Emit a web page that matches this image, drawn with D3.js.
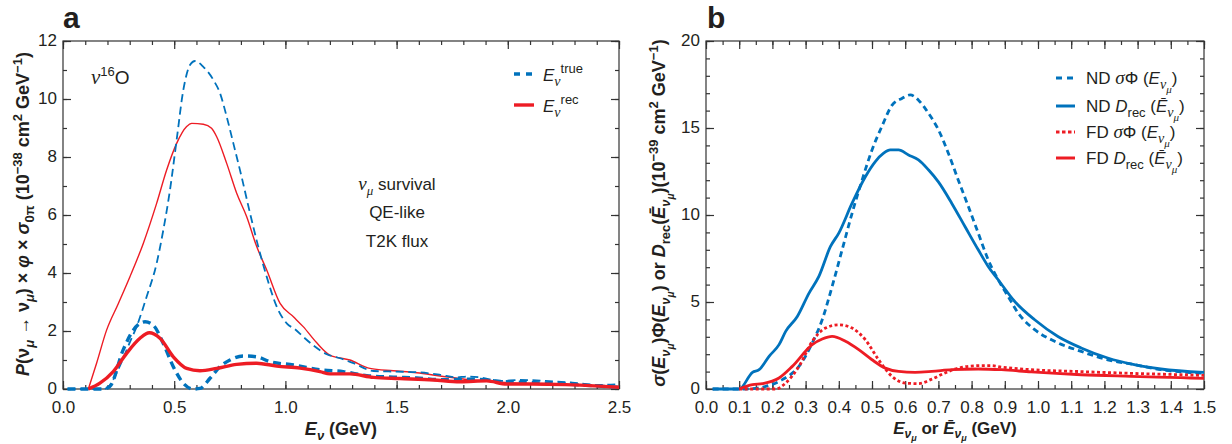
<!DOCTYPE html>
<html>
<head>
<meta charset="utf-8">
<script src="https://cdn.jsdelivr.net/npm/d3@7"></script>
<style>
  body { margin: 0; background: #fff; }
  svg { display: block; font-family: "Liberation Sans", Arial, sans-serif; }
  .tick text { fill: #231f20; font-size: 17px; font-family: "Liberation Sans", Arial, sans-serif; }
  .tick line { stroke: #333; stroke-width: 1.2px; }
</style>
</head>
<body>
<div id="chart"></div>
<script>
// ---- panel a : nu-16O, QE-like, T2K flux (units 1e-38 cm2/GeV)
const aTrueUnosc = [[0.02,0],[0.18,0],[0.2,0.05],[0.25,0.7],[0.3,1.6],[0.331,2.15],[0.376,3.18],[0.421,4.33],[0.451,5.48],[0.481,6.86],[0.511,8.59],[0.541,10.31],[0.571,11.17],[0.594,11.31],[0.631,11.11],[0.676,10.66],[0.706,10.2],[0.736,9.39],[0.766,8.47],[0.803,7.32],[0.841,6.06],[0.878,4.91],[0.916,3.87],[0.961,2.84],[1.006,2.26],[1.043,2.06],[1.08,1.8],[1.126,1.5],[1.186,1.2],[1.246,1.06],[1.306,0.89],[1.396,0.62],[1.5,0.6],[1.59,0.58],[1.695,0.49],[1.77,0.4],[1.815,0.43],[1.875,0.4],[1.965,0.28],[2.055,0.31],[2.17,0.28],[2.29,0.22],[2.41,0.14],[2.5,0.17]];
const aTrueOsc = [[0.02,0],[0.18,0],[0.21,0.08],[0.27,1.34],[0.316,2.03],[0.369,2.32],[0.406,2.2],[0.451,1.57],[0.496,0.77],[0.541,0.2],[0.586,0],[0.616,0.02],[0.661,0.37],[0.706,0.77],[0.751,1.0],[0.811,1.14],[0.871,1.11],[0.931,0.94],[1.036,0.83],[1.156,0.66],[1.26,0.6],[1.366,0.46],[1.485,0.41],[1.59,0.38],[1.71,0.32],[1.845,0.34],[1.965,0.26],[2.11,0.22],[2.26,0.17],[2.41,0.1],[2.5,0.06]];
const aRecUnosc = [[0.114,0],[0.151,0.89],[0.196,2.03],[0.249,2.95],[0.301,3.87],[0.361,5.02],[0.421,6.4],[0.466,7.55],[0.511,8.47],[0.556,9.05],[0.579,9.16],[0.631,9.13],[0.668,8.99],[0.691,8.7],[0.736,7.78],[0.781,6.75],[0.826,5.94],[0.871,4.91],[0.916,4.1],[0.976,2.95],[1.036,2.49],[1.08,2.15],[1.14,1.6],[1.2,1.17],[1.29,1.0],[1.38,0.71],[1.485,0.63],[1.59,0.56],[1.695,0.45],[1.815,0.33],[1.905,0.28],[1.995,0.22],[2.11,0.17],[2.26,0.14],[2.415,0.1],[2.5,0.06]];
const aRecOsc = [[0.114,0],[0.166,0.2],[0.226,0.6],[0.286,1.23],[0.346,1.75],[0.388,1.94],[0.436,1.75],[0.496,1.11],[0.556,0.71],[0.616,0.63],[0.691,0.71],[0.781,0.85],[0.871,0.89],[0.961,0.79],[1.066,0.72],[1.156,0.6],[1.2,0.52],[1.29,0.52],[1.396,0.4],[1.515,0.36],[1.665,0.31],[1.785,0.25],[1.905,0.28],[1.995,0.17],[2.11,0.17],[2.26,0.15],[2.41,0.1],[2.5,0.06]];
const aXTicks = [0, 0.5, 1.0, 1.5, 2.0, 2.5];
const aYTicks = [0, 2, 4, 6, 8, 10, 12];

// ---- panel b : ND / FD (units 1e-39 cm2/GeV)
const bNdFlux = [[0.02,0],[0.1,0],[0.14,0.02],[0.18,0.15],[0.23,0.54],[0.28,1.3],[0.32,2.64],[0.35,3.98],[0.38,5.9],[0.41,8.0],[0.44,10.1],[0.47,12.0],[0.5,13.74],[0.53,15.1],[0.56,16.3],[0.59,16.7],[0.615,16.9],[0.64,16.6],[0.67,15.85],[0.7,14.9],[0.73,13.55],[0.76,12.0],[0.79,10.5],[0.82,8.96],[0.85,7.43],[0.88,6.28],[0.91,5.32],[0.94,4.37],[0.99,3.41],[1.05,2.74],[1.13,2.16],[1.21,1.68],[1.29,1.4],[1.37,1.11],[1.5,0.9]];
const bNdRec = [[0.02,0],[0.1,0],[0.14,0.96],[0.16,1.11],[0.19,1.88],[0.22,2.55],[0.24,3.31],[0.275,4.17],[0.31,5.5],[0.34,6.47],[0.375,8.19],[0.4,8.96],[0.44,10.68],[0.48,12.2],[0.51,13.07],[0.535,13.55],[0.555,13.74],[0.58,13.74],[0.61,13.45],[0.64,13.17],[0.67,12.6],[0.7,11.9],[0.74,10.68],[0.78,9.34],[0.82,8.0],[0.85,7.04],[0.88,6.28],[0.93,5.03],[0.99,3.98],[1.06,3.02],[1.13,2.36],[1.21,1.78],[1.29,1.4],[1.37,1.15],[1.5,0.95]];
const bFdFlux = [[0.1,0],[0.21,0],[0.24,0.34],[0.28,1.3],[0.32,2.74],[0.36,3.5],[0.4,3.69],[0.44,3.5],[0.48,2.83],[0.52,1.68],[0.56,0.73],[0.6,0.34],[0.64,0.31],[0.68,0.57],[0.72,0.92],[0.76,1.2],[0.82,1.34],[0.86,1.34],[0.89,1.26],[0.98,1.11],[1.13,1.0],[1.28,0.9],[1.43,0.82],[1.5,0.78]];
const bFdRec = [[0.1,0],[0.14,0.25],[0.17,0.31],[0.22,0.63],[0.26,1.3],[0.32,2.55],[0.35,2.87],[0.38,3.02],[0.42,2.74],[0.46,2.26],[0.5,1.68],[0.54,1.2],[0.58,1.01],[0.63,0.96],[0.68,1.01],[0.74,1.11],[0.82,1.15],[0.89,1.11],[0.98,0.98],[1.13,0.82],[1.28,0.73],[1.43,0.65],[1.5,0.61]];
const bXTicks = d3.range(0, 16).map(d => d / 10);
const bYTicks = [0, 5, 10, 15, 20];

const blue = "#0072bc", red = "#ed1c24", ink = "#231f20";

const svg = d3.select("#chart").append("svg")
    .attr("width", 1232)
    .attr("height", 444);

// tspan helper: parts = [text, {i, w, fs, dy, ff}]
function rich(sel, parts) {
    let cur = 0;
    parts.forEach(p => {
        const s = p[0], o = p[1] || {};
        const off = o.dy || 0;
        const ts = sel.append("tspan").text(s).attr("dy", off - cur);
        cur = off;
        if (o.i) ts.style("font-style", "italic");
        if (o.w) ts.style("font-weight", o.w);
        if (o.fs) ts.style("font-size", o.fs + "px");
        if (o.ff) ts.style("font-family", o.ff);
    });
    return sel;
}
const serif = "'Liberation Serif', 'DejaVu Serif', serif";

function frame(x, y, xMajor, xMinor, yMajor, yMinor, fmtY) {
    const g = svg.append("g");
    const [x0, x1] = x.range(), [y0, y1] = y.range();

    g.append("g").attr("transform", `translate(0,${y0})`)
        .call(d3.axisBottom(x).tickValues(xMinor).tickSize(-4).tickFormat(""));
    g.append("g").attr("transform", `translate(0,${y0})`)
        .call(d3.axisBottom(x).tickValues(xMajor).tickSize(-8).tickPadding(12).tickFormat(d3.format(".1f")));
    g.append("g").attr("transform", `translate(0,${y1})`)
        .call(d3.axisTop(x).tickValues(xMinor).tickSize(-4).tickFormat(""));
    g.append("g").attr("transform", `translate(0,${y1})`)
        .call(d3.axisTop(x).tickValues(xMajor).tickSize(-8).tickFormat(""));

    g.append("g").attr("transform", `translate(${x0},0)`)
        .call(d3.axisLeft(y).tickValues(yMinor).tickSize(-4).tickFormat(""));
    const yl = g.append("g").attr("transform", `translate(${x0},0)`)
        .call(d3.axisLeft(y).tickValues(yMajor).tickSize(-8).tickPadding(6).tickFormat(fmtY));
    yl.selectAll("text").attr("dy", "0.28em");
    g.append("g").attr("transform", `translate(${x1},0)`)
        .call(d3.axisRight(y).tickValues(yMinor).tickSize(-4).tickFormat(""));
    g.append("g").attr("transform", `translate(${x1},0)`)
        .call(d3.axisRight(y).tickValues(yMajor).tickSize(-8).tickFormat(""));

    g.selectAll(".domain").remove();
    g.append("rect")
        .attr("x", x0).attr("y", y1)
        .attr("width", x1 - x0).attr("height", y0 - y1)
        .attr("fill", "none").attr("stroke", "#333").attr("stroke-width", 1.2);
    return g;
}

function curve(x, y, data, color, width, dash) {
    const line = d3.line()
        .x(d => x(d[0]))
        .y(d => y(d[1]))
        .curve(d3.curveMonotoneX);
    svg.append("path")
        .datum(data)
        .attr("d", line)
        .attr("fill", "none")
        .attr("stroke", color)
        .attr("stroke-width", width)
        .attr("stroke-dasharray", dash || null)
        .attr("stroke-linejoin", "round");
}

// ================= panel a =================
const xa = d3.scaleLinear().domain([0, 2.5]).range([63, 619]);
const ya = d3.scaleLinear().domain([0, 12]).range([389, 41]);

frame(xa, ya, aXTicks, d3.range(0, 26).map(d => d / 10), aYTicks, d3.range(0, 13), d3.format("d"));

curve(xa, ya, aRecUnosc, red, 1.4);
curve(xa, ya, aTrueUnosc, blue, 1.8, "8,4.5");
curve(xa, ya, aTrueOsc, blue, 3.4, "8,5");
curve(xa, ya, aRecOsc, red, 3.4);

svg.append("text").attr("x", 63).attr("y", 28)
    .style("font-size", "30px").style("font-weight", "bold").attr("fill", ink).text("a");

rich(svg.append("text").attr("x", 91).attr("y", 84).attr("fill", ink).style("font-size", "19px"),
    [["ν", { i: 1, ff: serif, fs: 21 }], ["16", { dy: -8, fs: 13 }], ["O"]]);

const note = svg.append("g").attr("fill", ink).style("font-size", "17px").attr("text-anchor", "middle");
rich(note.append("text").attr("x", 397).attr("y", 190),
    [["ν", { i: 1, ff: serif, fs: 19 }], ["μ", { i: 1, ff: serif, fs: 13, dy: 5 }], [" survival", { dy: 0 }]]);
note.append("text").attr("x", 397).attr("y", 218).text("QE-like");
note.append("text").attr("x", 397).attr("y", 247).text("T2K flux");

// legend a
const legA = [
    { y: 74, color: blue, w: 3.4, dash: "6,6", sup: "true" },
    { y: 105, color: red, w: 3.4, dash: null, sup: "rec" }
];
legA.forEach(d => {
    svg.append("line")
        .attr("x1", 514).attr("x2", 534).attr("y1", d.y).attr("y2", d.y)
        .attr("stroke", d.color).attr("stroke-width", d.w).attr("stroke-dasharray", d.dash);
    rich(svg.append("text").attr("x", 543).attr("y", d.y + 7).attr("fill", ink).style("font-size", "17px"),
        [["E", { i: 1 }], ["ν", { i: 1, ff: serif, fs: 14, dy: 5 }], [d.sup, { fs: 13, dy: -8 }]]);
});

// axis titles a
rich(svg.append("text")
        .attr("transform", "translate(29,214) rotate(-90)")
        .attr("text-anchor", "middle").attr("fill", ink)
        .style("font-size", "18px").style("font-weight", "bold"),
    [["P", { i: 1 }], ["(ν", {}], ["μ", { i: 1, fs: 13, dy: 5 }], [" → ν", {}], ["μ", { i: 1, fs: 13, dy: 5 }],
     [") × ", {}], ["φ", { i: 1 }], [" × ", {}], ["σ", { i: 1 }], ["0π", { fs: 13, dy: 5 }],
     [" (10", {}], ["−38", { fs: 13, dy: -7 }], [" cm", {}], ["2", { fs: 13, dy: -7 }], [" GeV", {}],
     ["−1", { fs: 13, dy: -7 }], [")", {}]]);

rich(svg.append("text").attr("x", 341).attr("y", 435)
        .attr("text-anchor", "middle").attr("fill", ink)
        .style("font-size", "18px").style("font-weight", "bold"),
    [["E", { i: 1 }], ["ν", { i: 1, fs: 13, dy: 5 }], [" (GeV)", {}]]);

// ================= panel b =================
const xb = d3.scaleLinear().domain([0, 1.5]).range([706, 1204]);
const yb = d3.scaleLinear().domain([0, 20]).range([389, 41]);

frame(xb, yb, bXTicks, d3.range(0, 31).map(d => d / 20), bYTicks, d3.range(0, 21), d3.format("d"));

curve(xb, yb, bNdFlux, blue, 2.8, "6,4");
curve(xb, yb, bNdRec, blue, 2.8);
curve(xb, yb, bFdFlux, red, 2.8, "3,2.5");
curve(xb, yb, bFdRec, red, 2.8);

svg.append("text").attr("x", 707).attr("y", 28)
    .style("font-size", "30px").style("font-weight", "bold").attr("fill", ink).text("b");

// legend b
const enu = [["E", { i: 1 }], ["ν", { i: 1, ff: serif, fs: 14, dy: 5 }], ["μ", { i: 1, ff: serif, fs: 11, dy: 9 }], [")", { dy: 0 }]];
const ebar = [["Ē", { i: 1 }], ["ν", { i: 1, ff: serif, fs: 14, dy: 5 }], ["μ", { i: 1, ff: serif, fs: 11, dy: 9 }], [")", { dy: 0 }]];
const legB = [
    { y: 78, color: blue, dash: "6,5", parts: [["ND "], ["σ", { i: 1, ff: serif, fs: 19 }], ["Φ (", {}]].concat(enu) },
    { y: 106, color: blue, dash: null, parts: [["ND "], ["D", { i: 1 }], ["rec", { dy: 5, fs: 13 }], [" (", { dy: 0 }]].concat(ebar) },
    { y: 132, color: red, dash: "3.5,2.5", parts: [["FD "], ["σ", { i: 1, ff: serif, fs: 19 }], ["Φ (", {}]].concat(enu) },
    { y: 158, color: red, dash: null, parts: [["FD "], ["D", { i: 1 }], ["rec", { dy: 5, fs: 13 }], [" (", { dy: 0 }]].concat(ebar) }
];
legB.forEach(d => {
    svg.append("line")
        .attr("x1", 1056).attr("x2", 1075).attr("y1", d.y).attr("y2", d.y)
        .attr("stroke", d.color).attr("stroke-width", 3).attr("stroke-dasharray", d.dash);
    rich(svg.append("text").attr("x", 1086).attr("y", d.y + 6).attr("fill", ink).style("font-size", "17px"), d.parts);
});

// axis titles b
rich(svg.append("text")
        .attr("transform", "translate(665,213) rotate(-90)")
        .attr("text-anchor", "middle").attr("fill", ink)
        .style("font-size", "18px").style("font-weight", "bold"),
    [["σ", { i: 1 }], ["(", {}], ["E", { i: 1 }], ["ν", { i: 1, fs: 13, dy: 5 }], ["μ", { i: 1, fs: 10, dy: 9 }],
     [")Φ(", { dy: 0 }], ["E", { i: 1 }], ["ν", { i: 1, fs: 13, dy: 5 }], ["μ", { i: 1, fs: 10, dy: 9 }],
     [") or ", { dy: 0 }], ["D", { i: 1 }], ["rec", { fs: 13, dy: 5 }], ["(", { dy: 0 }], ["Ē", { i: 1 }],
     ["ν", { i: 1, fs: 13, dy: 5 }], ["μ", { i: 1, fs: 10, dy: 9 }], [")(10", { dy: 0 }], ["−39", { fs: 13, dy: -7 }],
     [" cm", {}], ["2", { fs: 13, dy: -7 }], [" GeV", {}], ["−1", { fs: 13, dy: -7 }], [")", {}]]);

rich(svg.append("text").attr("x", 955).attr("y", 434)
        .attr("text-anchor", "middle").attr("fill", ink)
        .style("font-size", "17px").style("font-weight", "bold"),
    [["E", { i: 1 }], ["ν", { i: 1, fs: 12, dy: 4 }], ["μ", { i: 1, fs: 9, dy: 7 }], [" or ", { dy: 0 }],
     ["Ē", { i: 1 }], ["ν", { i: 1, fs: 12, dy: 4 }], ["μ", { i: 1, fs: 9, dy: 7 }], [" (GeV)", { dy: 0 }]]);
</script>
</body>
</html>
